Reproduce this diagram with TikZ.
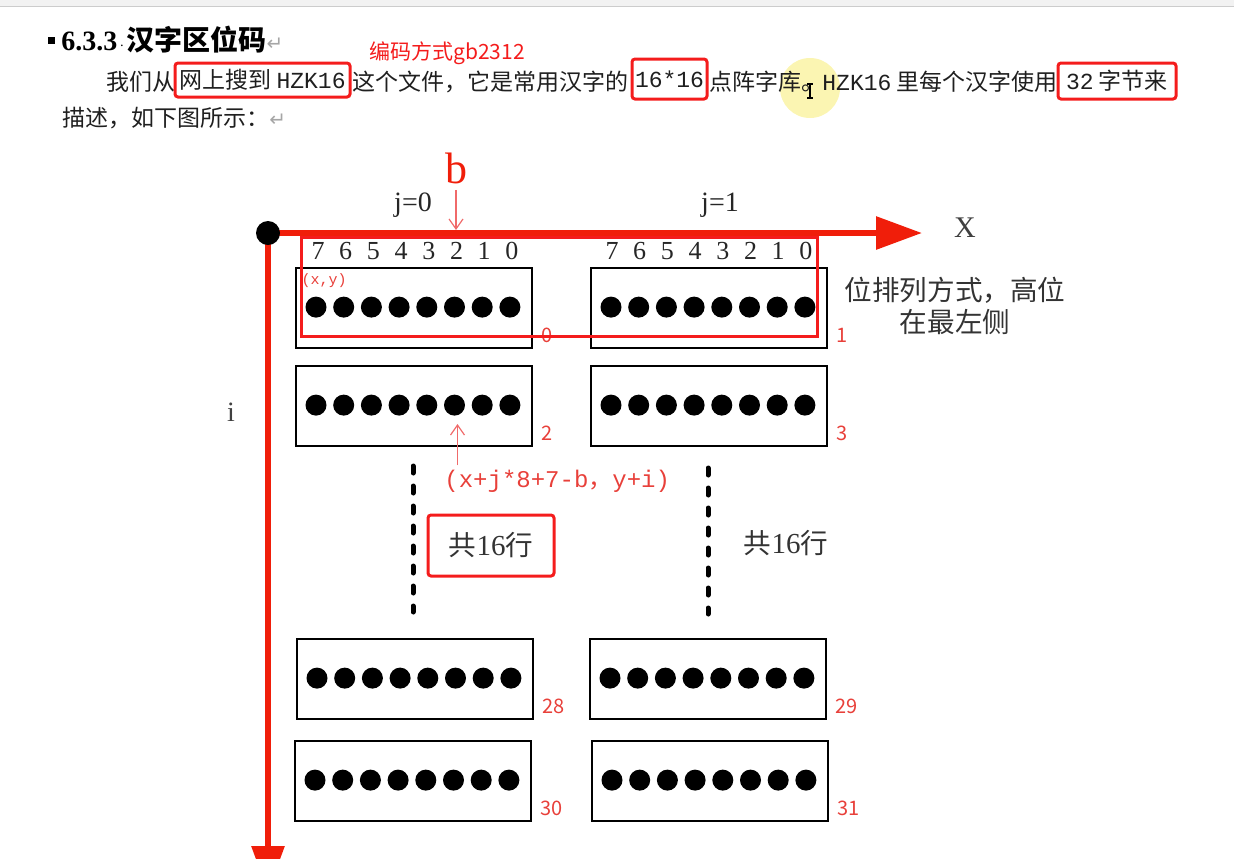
\documentclass[tikz,border=0pt]{standalone}
\usepackage{fontspec}
\setmainfont{Liberation Serif}
\newfontfamily\cjk{Noto Sans CJK SC}
\newfontfamily\monofnt{Liberation Mono}
\newfontfamily\symfnt{DejaVu Sans}
\usepackage{xcolor}
\usepackage{tikz}
\usetikzlibrary{arrows.meta, positioning, calc}

\definecolor{axisred}{HTML}{F01E0A}
\definecolor{boxred}{HTML}{F41C1C}
\definecolor{labred}{HTML}{E8403A}
\definecolor{pinkred}{HTML}{F06A6A}
\definecolor{cursorylw}{RGB}{250,243,165}

\begin{document}
\begin{tikzpicture}[
    x=0.5pt, y=-0.5pt,
    every node/.style={inner sep=0pt},
    txt/.style={font=\cjk\fontsize{11.5}{13}\selectfont, text=black!88},
    para/.style={txt, anchor=west},
    hl/.style={txt, draw=boxred, line width=1.5pt, rounded corners=1.5pt, minimum height=17pt},
    rowbox/.style={draw, line width=1.1pt, minimum width=118pt, minimum height=40pt},
    bitdot/.style={circle, fill=black, minimum size=10.5pt},
    rownum/.style={anchor=west, text=labred, font=\cjk\fontsize{10}{12}\selectfont},
    bitnum/.style={font=\fontsize{13}{15}\selectfont, text=black!85},
    axis/.style={draw=axisred, line width=3pt, -{Triangle[length=23pt, width=16pt]}},
    thinarrow/.style={draw=pinkred, line width=0.6pt, -{Straight Barb[length=5pt, width=7pt]}},
    dotline/.style={line width=2.5pt, line cap=round, dash pattern=on 3.5pt off 6.5pt},
    cn/.style={font=\cjk\fontsize{13.8}{16}\selectfont, text=black!80}
]
\useasboundingbox (0,0) rectangle (1234,858);
\clip (0,0) rectangle (1234,858);

% window strip
\fill[black!5] (0,0) rectangle (1234,6);
\draw[black!20] (0,6) -- (1234,6);

% cursor highlight
\fill[cursorylw, opacity=0.85] (810,88) circle (15pt);

% heading and text
\node[fill=black, minimum size=3.5pt] (bullet) at (51,40) {};
\node[anchor=west, font=\bfseries\fontsize{14}{16}\selectfont] (title) at (61,40)
  {6.3.3{\normalfont\fontsize{7}{8}\selectfont\,·\,}{\cjk\bfseries 汉字区位码}{\symfnt\mdseries\color{black!35}\fontsize{10}{12}\selectfont ↵}};
\node[anchor=west, text=boxred, font=\cjk\fontsize{10.5}{12}\selectfont] (note) at (369,53) {编码方式gb2312};

\node[para] (p1) at (106,82) {我们从};
\node[hl, minimum width=87.5pt] (p2) at (262.5,80) {网上搜到 {\monofnt HZK16}};
\node[para] (p3) at (352,82) {这个文件，它是常用汉字的};
\node[hl, minimum width=37.5pt, minimum height=20pt] (p4) at (669.5,79) {\monofnt 16*16};
\node[para] (p5) at (709,82) {点阵字库。};
\node[para] (p6) at (822,82) {{\monofnt HZK16} 里每个汉字使用};
\node[hl, minimum width=59pt, minimum height=18pt] (p7) at (1117,81) {{\monofnt 32} 字节来};
\node[para] (p8) at (62,118) {描述，如下图所示：{\symfnt\color{black!35}\fontsize{10}{12}\selectfont ↵}};

% text cursor
\draw[line width=0.7pt] (810,84) -- (810,98) (807,84) -- (813,84) (807,98) -- (813,98);

% axes
\coordinate (o) at (268,233);
\coordinate (xend) at (922,233);
\coordinate (yend) at (268,892);
\draw[axis] (o) -- (xend);
\draw[axis] (o) -- (yend);
\node[circle, fill=black, minimum size=12pt] (origin) at (o) {};
\node[font=\fontsize{15}{17}\selectfont, text=black!75] (xlab) at (965,228) {X};
\node[font=\fontsize{14}{16}\selectfont, text=black!75] (ilab) at (231,412) {i};
\node[font=\fontsize{14}{16}\selectfont, text=black!85] (j0) at (413,205) {j=0};
\node[font=\fontsize{14}{16}\selectfont, text=black!85] (j1) at (720,205) {j=1};

% bit b
\node[text=axisred, font=\fontsize{22}{24}\selectfont] (b) at (456,168) {b};
\coordinate (bpt) at (456,230);
\draw[thinarrow] ([yshift=-3pt]b.south) -- (bpt);

% rows of dots
\foreach \nm/\l/\t in {0/295/267, 1/590/267, 2/295/365, 3/590/365, 28/296/638, 29/589/638, 30/294/740, 31/591/740} {
  \node[rowbox, anchor=north west] (r\nm) at (\l,\t) {};
  \foreach \k in {0,...,7}
    \node[bitdot] (r\nm-\k) at ($(r\nm.west)+(21+\k*27.7,-1)$) {};
  \node[rownum] at ($(r\nm.south east)+(8,-14)$) {\nm};
}
\foreach \k [evaluate=\k as \bit using int(7-\k)] in {0,...,7} {
  \node[bitnum] at ($(r0-\k |- r0.north)+(2,-16)$) {\bit};
  \node[bitnum] at ($(r1-\k |- r1.north)+(1,-16)$) {\bit};
}
\node[text=labred, font=\monofnt\fontsize{7.5}{8}\selectfont] (xy) at (324,281) {(x,y)};

% highlight of first row
\draw[boxred, line width=1.5pt] (301,237) rectangle (817,336);

% pixel formula
\node[anchor=west, text=labred, font=\monofnt\fontsize{12}{14}\selectfont] (formula) at (444,481) {(x+j*8+7-b{\cjk ，}y+i)};
\coordinate (tipf) at ($(r2-5.south)+(3,8)$);
\draw[thinarrow] ($(formula.north -| tipf)+(0,-4)$) -- (tipf);

% more rows
\draw[dotline] (413,466) -- (413,612);
\draw[dotline] (708,468) -- (708,614);
\node[cn, draw=boxred, line width=1.5pt, rounded corners=1.5pt, minimum width=63pt, minimum height=30.5pt] (total0) at (491,545.5) {共{\fontsize{14.5}{16}\selectfont\rmfamily 16}行};
\node[cn] (total1) at (786,543) {共{\fontsize{14.5}{16}\selectfont\rmfamily 16}行};

\node[cn, align=center] (order) at (955,306) {位排列方式，高位\\在最左侧};
\end{tikzpicture}
\end{document}
